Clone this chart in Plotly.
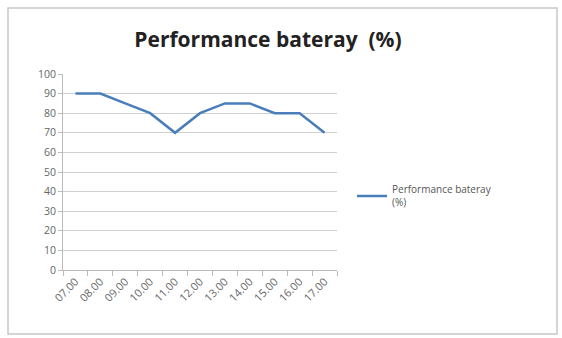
import plotly.graph_objects as go

hours = ["07.00", "08.00", "09.00", "10.00", "11.00", "12.00", "13.00", "14.00", "15.00", "16.00", "17.00"]
performance = [90, 90, 85, 80, 70, 80, 85, 85, 80, 80, 70]
y_ticks = [0, 10, 20, 30, 40, 50, 60, 70, 80, 90, 100]
series_name = "Performance bateray<br>(%)"
title_text = "Performance bateray  (%)"

W, H = 562, 338
L, R, T, B = 63, 225, 74, 68
pw, ph = W - L - R, H - T - B

def px_to_paper_x(px):
    return (px - L) / pw

def px_to_paper_y(py):
    return (H - B - py) / ph

fig = go.Figure()
fig.add_trace(go.Scatter(
    x=hours, y=performance, mode="lines", name=series_name,
    line=dict(color="#4A7EBB", width=2.5),
))

fig.update_layout(
    width=W, height=H,
    margin=dict(l=L, r=R, t=T, b=B),
    paper_bgcolor="white", plot_bgcolor="white",
    title=dict(text="<b>" + title_text + "</b>", x=px_to_paper_x(268), xref="paper",
               xanchor="center", y=1 - 40 / H, yanchor="middle",
               font=dict(family="Open Sans", size=21, color="#222")),
    showlegend=True,
    legend=dict(x=px_to_paper_x(352), y=px_to_paper_y(196), xanchor="left", yanchor="middle",
                font=dict(family="Open Sans", size=10, color="#555"),
                itemwidth=30, bgcolor="rgba(0,0,0,0)", tracegroupgap=0),
    font=dict(family="Open Sans", size=10, color="#666"),
    xaxis=dict(type="category", showgrid=False, showline=True, linecolor="#bbb",
               ticks="outside", ticklen=5, tickcolor="#bbb", tickangle=-45,
               tickson="boundaries", range=[-0.5, len(hours) - 0.5],
               tickfont=dict(size=11, color="#666")),
    yaxis=dict(range=[0, 100], tickvals=y_ticks, showgrid=True, gridcolor="#cfcfcf",
               showline=True, linecolor="#bbb", ticks="outside", ticklen=4, tickcolor="#bbb",
               zeroline=False, tickfont=dict(size=10.5, color="#666")),
    shapes=[dict(type="rect", xref="paper", yref="paper",
                 x0=px_to_paper_x(8), x1=px_to_paper_x(557),
                 y0=px_to_paper_y(334), y1=px_to_paper_y(8),
                 line=dict(color="#c8c8c8", width=1.5), fillcolor="rgba(0,0,0,0)", layer="below")],
)

fig.write_html("out.html")
